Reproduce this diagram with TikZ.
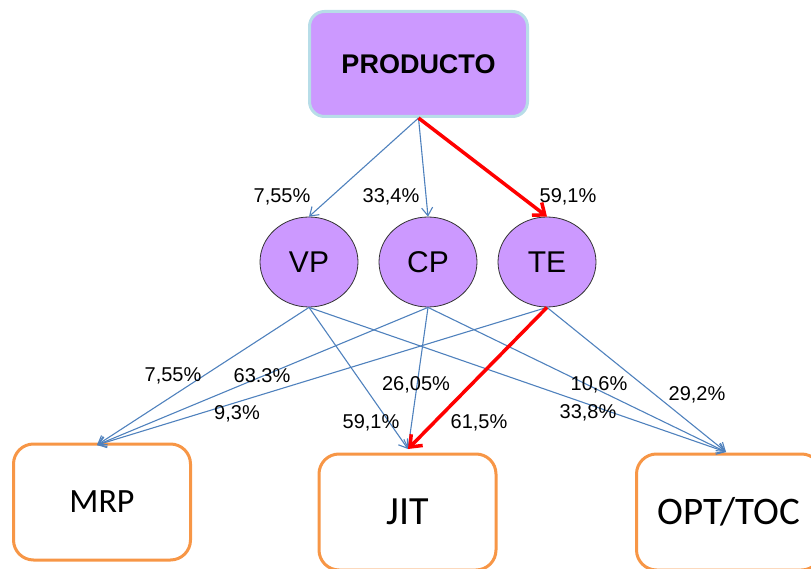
\documentclass[tikz,border=0pt]{standalone}
\usepackage{fontspec}
\setmainfont{Liberation Sans}
\newfontfamily\calfont{Carlito}
\usetikzlibrary{arrows.meta,shapes.geometric}
\definecolor{lilac}{RGB}{204,153,255}
\definecolor{paleteal}{RGB}{183,221,232}
\definecolor{linkblue}{RGB}{79,129,189}
\definecolor{boxorange}{RGB}{247,150,70}
\tikzset{
  topbox/.style={draw=paleteal, line width=3pt, fill=lilac, rounded corners=15pt,
    minimum width=218pt, minimum height=105pt, inner sep=0pt,
    font=\fontsize{27}{31}\selectfont\bfseries},
  factor/.style={ellipse, draw=black!80, line width=0.8pt, fill=lilac,
    minimum width=98pt, minimum height=90pt, inner sep=0pt,
    font=\fontsize{30}{34}\selectfont},
  system/.style={draw=boxorange, line width=3pt, fill=white, rounded corners=20pt,
    minimum width=177pt, minimum height=116pt, inner sep=0pt},
  link/.style={draw=linkblue, line width=1.1pt,
    -{Straight Barb[length=8pt,width=11pt,line width=1.1pt]}},
  hot/.style={draw=red, line width=3.5pt,
    -{Straight Barb[length=10pt,width=16pt,line width=3.5pt]}},
  pct/.style={font=\fontsize{20}{24}\selectfont, inner sep=0pt}
}
\begin{document}
\begin{tikzpicture}[x=1pt,y=-1pt]
\useasboundingbox (0,0) rectangle (811,569);

% top node
\node[topbox] (prod) at (418.5,64) {PRODUCTO};

% factors
\node[factor] (vp) at (309,262) {VP};
\node[factor] (cp) at (428,262) {CP};
\node[factor] (te) at (547,262) {TE};

% systems
\node[system, font=\calfont\fontsize{34}{38}\selectfont] (mrp) at (102,502) {MRP};
\node[system, font=\calfont\fontsize{40}{44}\selectfont] (jit) at (407.5,512) {JIT};
\node[system, minimum width=185pt, font=\calfont\fontsize{39}{43}\selectfont] (opt) at (729,512) {OPT/TOC};

% arrow ends above the system boxes
\coordinate (mrpin) at (97,445);
\coordinate (jitin) at (408,449);
\coordinate (optin) at (726,452);

% product to factors
\draw[link] (prod.south) -- (vp.north);
\draw[link] (prod.south) -- (cp.north);
\draw[hot] (prod.south) -- (te.north);

% factors to systems
\draw[link] (vp.south) -- (mrpin);
\draw[link] (vp.south) -- (jitin);
\draw[link] (vp.south) -- (optin);
\draw[link] (cp.south) -- (mrpin);
\draw[link] (cp.south) -- (jitin);
\draw[link] (cp.south) -- (optin);
\draw[link] (te.south) -- (mrpin);
\draw[link] (te.south) -- (optin);
\draw[hot] (te.south) -- (jitin);

% percentages
\node[pct] (p1) at (282,197) {7,55\%};
\node[pct] (p2) at (391,197) {33,4\%};
\node[pct] (p3) at (568,197) {59,1\%};
\node[pct] (p4) at (173,376) {7,55\%};
\node[pct] (p5) at (262,376) {63.3\%};
\node[pct] (p6) at (237,414) {9,3\%};
\node[pct] (p7) at (416,385) {26,05\%};
\node[pct] (p8) at (371,423) {59,1\%};
\node[pct] (p9) at (479,423) {61,5\%};
\node[pct] (p10) at (599,385) {10,6\%};
\node[pct] (p11) at (588,413) {33,8\%};
\node[pct] (p12) at (697,395) {29,2\%};
\end{tikzpicture}
\end{document}
